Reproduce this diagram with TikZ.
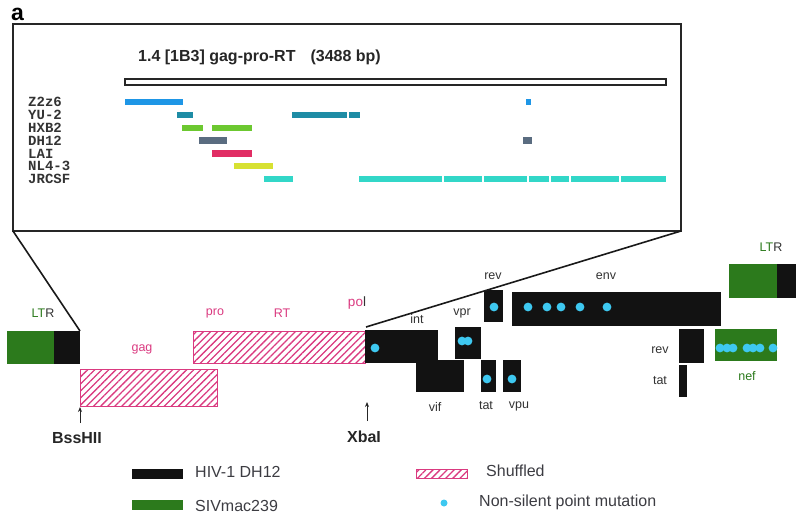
\documentclass[tikz,border=0pt]{standalone}
\usepackage{fontspec}
\setmainfont{Liberation Sans}
\newfontfamily\seqfont{Liberation Mono}
\usepackage{xcolor}
\usetikzlibrary{arrows.meta, patterns.meta}
\definecolor{hivblack}{RGB}{18,18,18}
\definecolor{sivgreen}{RGB}{44,122,28}
\definecolor{hatchpink}{RGB}{218,58,128}
\definecolor{mutcyan}{RGB}{62,200,240}
\definecolor{labgrey}{RGB}{50,50,50}
\definecolor{keygrey}{RGB}{60,60,66}
\definecolor{zzsix}{RGB}{30,150,230}
\definecolor{yutwo}{RGB}{30,140,165}
\definecolor{hxbtwo}{RGB}{108,200,48}
\definecolor{dhtwelve}{RGB}{90,108,128}
\definecolor{lai}{RGB}{225,45,100}
\definecolor{nlfour}{RGB}{215,225,50}
\definecolor{jrcsf}{RGB}{50,215,200}

\begin{document}
\begin{tikzpicture}[
    x=1pt, y=-1pt,
    frame/.style={draw=black!85, line width=1.6pt},
    zoomline/.style={draw=black!90, line width=1.6pt},
    gene/.style={fill=hivblack},
    siv/.style={fill=sivgreen},
    shuffled/.style={draw=hatchpink, line width=0.9pt, pattern={Lines[angle=45, distance=5pt, line width=1.3pt]}, pattern color=hatchpink},
    mut/.style={fill=mutcyan},
    lab/.style={font=\fontsize{12.5}{14}\selectfont, text=labgrey, inner sep=0pt},
    seq/.style={font=\seqfont\bfseries\fontsize{14}{14}\selectfont, text=black!80, anchor=west, inner sep=0pt},
    key/.style={font=\fontsize{16}{18}\selectfont, text=keygrey, anchor=west, inner sep=0pt},
    site/.style={font=\bfseries\fontsize{16}{18}\selectfont, text=black!85, inner sep=0pt},
    >={Stealth[length=5pt, width=4pt]}
]
    \useasboundingbox (0,0) rectangle (800,521);

    % Panel letter and title
    \node[font=\bfseries\fontsize{23}{24}\selectfont, inner sep=0pt] (panel) at (17.5,14) {a};
    \node[font=\bfseries\fontsize{16}{18}\selectfont, text=black!85, anchor=west, inner sep=0pt] (title) at (138,57) {1.4 [1B3] gag-pro-RT\hspace{15pt}(3488 bp)};

    % Inset frame and fragment bar
    \draw[frame] (13,24) rectangle (681,231);
    \draw[frame] (125,79) rectangle (666,85);
    \coordinate (boxsw) at (13,231);
    \coordinate (boxse) at (681,231);

    % Parental strains
    \node[seq] (lz) at (28,101.8) {Z2z6};
    \node[seq] (ly) at (28,114.8) {YU-2};
    \node[seq] (lh) at (28,127.8) {HXB2};
    \node[seq] (ld) at (28,140.6) {DH12};
    \node[seq] (ll) at (28,153.4) {LAI};
    \node[seq] (ln) at (28,166.2) {NL4-3};
    \node[seq] (lj) at (28,179) {JRCSF};

    % Segments
    \foreach \a/\b in {125/183, 526/530.5} \fill[zzsix] (\a,98.6) rectangle (\b,105);
    \foreach \a/\b in {177/193, 292/347, 349/360} \fill[yutwo] (\a,111.6) rectangle (\b,118);
    \foreach \a/\b in {182/203, 212/252} \fill[hxbtwo] (\a,124.6) rectangle (\b,131);
    \foreach \a/\b in {199/227, 523/532} \fill[dhtwelve] (\a,137.4) rectangle (\b,143.8);
    \fill[lai] (212,150.2) rectangle (252,156.6);
    \fill[nlfour] (234,163) rectangle (273,169.4);
    \foreach \a/\b in {264/293, 359/442, 444/482, 484/527, 529/549, 551/569, 571/619, 621/666} \fill[jrcsf] (\a,175.8) rectangle (\b,182.2);

    % Genome map
    \fill[siv] (7,331) rectangle (54,364);
    \fill[gene] (54,331) rectangle (80,364);
    \coordinate (gagstart) at (80,331);
    \draw[shuffled] (80,369) rectangle (217,406);
    \coordinate (gagsw) at (80,407);
    \draw[shuffled] (193,331) rectangle (365,363);
    \fill[gene] (365,330) rectangle (438,363);
    \coordinate (polend) at (366,327);
    \coordinate (xbatip) at (367,402);
    \fill[gene] (416,360) rectangle (464,392);
    \fill[gene] (455,327) rectangle (481,359);
    \fill[gene] (484,290) rectangle (503,322);
    \fill[gene] (481,360) rectangle (496,392);
    \fill[gene] (503,360) rectangle (521,392);
    \fill[gene] (512,292) rectangle (721,326);
    \fill[gene] (679,329) rectangle (704,363);
    \fill[gene] (679,365) rectangle (687,397);
    \fill[siv] (715,329) rectangle (777,361);
    \fill[siv] (729,264) rectangle (777,298);
    \fill[gene] (777,264) rectangle (796,298);

    % Mutations
    \foreach \x/\y in {375/348, 462/341, 468/341, 494/307, 487/379, 512/379,
        528/307, 547/307, 561/307, 580/307, 607/307,
        720/348, 727/348, 733/348, 747/348, 753/348, 760/348, 773/348}
        \fill[mut] (\x,\y) circle (4.4pt);

    % Zoom lines
    \draw[zoomline] (boxsw) -- (gagstart);
    \draw[zoomline] (boxse) -- (polend);

    % Gene labels
    \node[lab] (ltrl) at (43,313) {\textcolor{sivgreen}{LT}R};
    \node[lab, text=hatchpink] (gagl) at (142,349) {gag};
    \node[lab, text=hatchpink] (prol) at (215,313) {pro};
    \node[lab, text=hatchpink] (rtl) at (282,313) {RT};
    \node[lab, text=hatchpink, font=\fontsize{13.5}{15}\selectfont] (poll) at (357,303) {po\textcolor{labgrey}{l}};
    \node[lab] (intl) at (417,319) {int};
    \node[lab] (vifl) at (435,407) {vif};
    \node[lab] (vprl) at (462,313) {vpr};
    \node[lab] (revl) at (493,276) {rev};
    \node[lab] (tatl) at (486,406) {tat};
    \node[lab] (vpul) at (519,406) {vpu};
    \node[lab] (envl) at (606,276) {env};
    \node[lab] (revr) at (660,350) {rev};
    \node[lab] (tatr) at (660,381) {tat};
    \node[lab, text=sivgreen] (nefl) at (747,376) {nef};
    \node[lab] (ltrr) at (771,247) {\textcolor{sivgreen}{LT}R};

    % Restriction sites
    \coordinate (bssbase) at (80,423);
    \coordinate (xbabase) at (367,421);
    \draw[->, line width=0.8pt, black!85] (bssbase) -- (gagsw);
    \draw[->, line width=0.8pt, black!85] (xbabase) -- (xbatip);
    \node[site] (bss) at (77,438) {BssHII};
    \node[site] (xba) at (364,437) {XbaI};

    % Legend
    \fill[gene] (132,469) rectangle (183,479);
    \node[key] (khiv) at (195,472) {HIV-1 DH12};
    \fill[siv] (132,500) rectangle (183,510);
    \node[key] (ksiv) at (195,506) {SIVmac239};
    \draw[shuffled] (416,469) rectangle (467,478);
    \node[key] (kshuf) at (486,471) {Shuffled};
    \fill[mut] (444,503) circle (3.5pt);
    \node[key] (kmut) at (479,502) {Non-silent point mutation};
\end{tikzpicture}
\end{document}
